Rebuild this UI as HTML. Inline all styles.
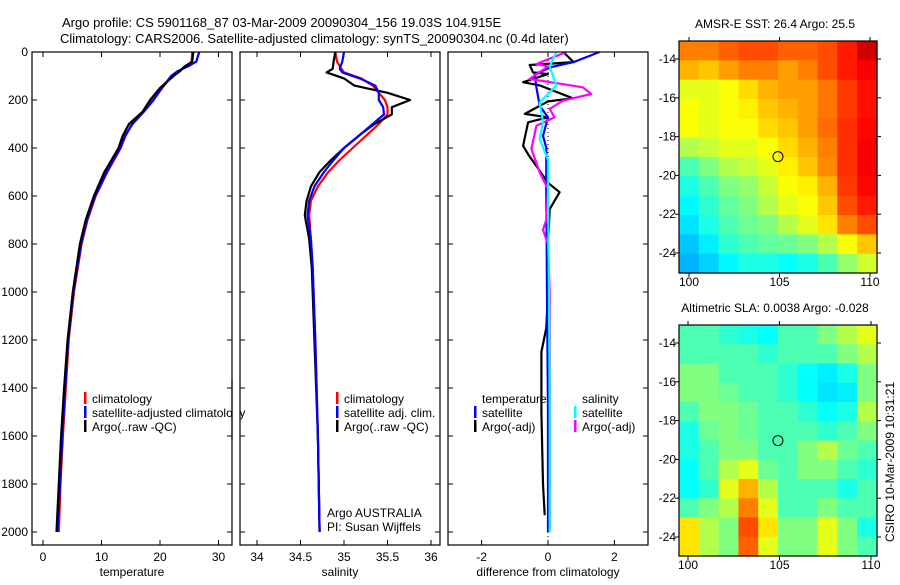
<!DOCTYPE html>
<html><head><meta charset="utf-8">
<style>
html,body{margin:0;padding:0;background:#fff;}
body{width:900px;height:580px;overflow:hidden;font-family:"Liberation Sans",sans-serif;}
svg text{font-family:"Liberation Sans",sans-serif;font-size:12px;fill:#000;}
</style></head>
<body>
<svg id="fig" width="900" height="580" viewBox="0 0 900 580" xmlns="http://www.w3.org/2000/svg">
<text x="62" y="27" style="font-size:13px">Argo profile: CS 5901168_87 03-Mar-2009 20090304_156 19.03S 104.915E</text>
<text x="60" y="43" style="font-size:13px">Climatology: CARS2006. Satellite-adjusted climatology: synTS_20090304.nc (0.4d later)</text>
<g id="content"></g>
<text transform="translate(894,462) rotate(-90)" text-anchor="middle">CSIRO 10-Mar-2009 10:31:21</text>
</svg>
<script>
// ---------- data ----------
const depthTicks=[0,200,400,600,800,1000,1200,1400,1600,1800,2000];
const tempTicks=[0,10,20,30];
const salTicks=[34,34.5,35,35.5,36];
const diffTicks=[-2,0,2];
const lonTicks=[100,105,110];
const latTicks=[-14,-16,-18,-20,-22,-24];

const tDepth=[0,40,60,80,100,150,200,250,300,350,400,500,600,700,800,1000,1200,1400,1600,1800,2000];
const tClim=[25.5,25.4,24.6,23.2,22,20.4,18.8,17,15.2,14.1,13.3,11,9,7.6,6.6,5.3,4.4,3.9,3.4,3.0,2.7];
const tSat=[26.7,26.2,24.8,23.0,21.9,20.3,18.9,17.2,15.3,14.0,13.2,10.9,8.9,7.5,6.5,5.2,4.3,3.8,3.3,2.9,2.5];
const tArgo=[25.7,25.5,24.2,23.4,22.3,20.0,18.3,17.0,14.7,13.6,12.9,10.5,8.7,7.3,6.3,5.1,4.2,3.6,3.1,2.7,2.3];

const sDepth=[0,40,70,85,110,140,170,200,230,260,300,340,400,450,500,560,620,680,780,900,1200,1600,2000];
const sClim=[34.9,34.92,34.97,35.0,35.2,35.33,35.4,35.47,35.5,35.5,35.4,35.28,35.1,34.95,34.82,34.7,34.62,34.6,34.62,34.64,34.67,34.7,34.72];
const sSat=[35.0,34.98,34.95,34.98,35.18,35.36,35.40,35.40,35.45,35.46,35.33,35.2,35.0,34.88,34.77,34.66,34.6,34.58,34.62,34.64,34.67,34.7,34.72];
const sArgo=[34.9,34.88,34.87,34.8,35.0,35.12,35.5,35.76,35.55,35.55,35.35,35.2,35.0,34.85,34.72,34.62,34.57,34.55,34.6,34.63,34.66,34.7,34.72];

const dDepthA=[0,42,54,85,92,126,139,193,206,258,272,293,391,426,545,584,655,800,1000,1150,1250,1500,1800,1930];
const dArgoT=[0.46,0.77,-0.55,-0.45,0,-0.75,-0.25,0.75,0,-0.7,0,-0.6,-0.75,-0.6,0,0.35,0.05,0,0,-0.05,-0.2,-0.2,-0.15,-0.1];
const dDepthB=[0,42,63,92,147,224,272,349,400,600,1000,1500,2000];
const dSatT=[1.55,0.77,0.1,-0.4,-0.35,-0.25,0,-0.15,-0.05,-0.05,-0.03,0,0];
const dDepthC=[0,50,60,112,147,175,203,237,272,307,404,502,571,700,740,800,1000,1500,2000];
const dArgoS=[0.55,-0.35,0,-0.55,1.05,1.3,0.45,0.05,0.2,-0.35,-0.5,-0.25,0,-0.05,-0.15,0,0.05,0.05,0.05];
const dDepthD=[0,60,139,210,293,362,450,600,1000,1500,2000];
const dSatS=[0.25,0.05,0.25,-0.25,-0.15,-0.25,0,0,0.03,0.05,0.05];

const sstGrid=[
[0.75,0.75,0.78,0.8,0.8,0.78,0.78,0.8,0.85,0.92],
[0.7,0.68,0.72,0.75,0.75,0.72,0.75,0.8,0.85,0.88],
[0.6,0.6,0.62,0.66,0.7,0.72,0.72,0.76,0.82,0.86],
[0.62,0.6,0.62,0.64,0.68,0.7,0.72,0.76,0.82,0.86],
[0.62,0.6,0.62,0.62,0.66,0.68,0.72,0.77,0.83,0.87],
[0.55,0.57,0.6,0.6,0.62,0.66,0.7,0.75,0.83,0.88],
[0.45,0.5,0.55,0.57,0.6,0.64,0.68,0.74,0.83,0.88],
[0.4,0.45,0.5,0.52,0.57,0.62,0.64,0.7,0.82,0.87],
[0.37,0.42,0.47,0.5,0.55,0.6,0.62,0.68,0.8,0.85],
[0.35,0.4,0.45,0.48,0.5,0.55,0.6,0.65,0.75,0.8],
[0.32,0.36,0.42,0.45,0.47,0.48,0.5,0.55,0.62,0.68],
[0.3,0.33,0.37,0.4,0.4,0.38,0.4,0.45,0.52,0.58]];
const slaGrid=[
[0.45,0.45,0.42,0.4,0.38,0.45,0.45,0.5,0.55,0.6],
[0.45,0.45,0.45,0.45,0.42,0.45,0.45,0.45,0.5,0.55],
[0.5,0.5,0.45,0.45,0.45,0.42,0.38,0.36,0.4,0.5],
[0.5,0.5,0.48,0.45,0.45,0.42,0.38,0.35,0.36,0.5],
[0.45,0.5,0.5,0.48,0.45,0.45,0.42,0.38,0.4,0.55],
[0.4,0.48,0.5,0.48,0.45,0.45,0.45,0.42,0.45,0.5],
[0.4,0.45,0.5,0.5,0.45,0.45,0.5,0.55,0.48,0.45],
[0.38,0.45,0.55,0.6,0.48,0.45,0.5,0.5,0.45,0.42],
[0.38,0.42,0.6,0.7,0.55,0.45,0.45,0.45,0.4,0.45],
[0.45,0.5,0.55,0.75,0.6,0.45,0.45,0.5,0.45,0.45],
[0.65,0.55,0.5,0.8,0.65,0.5,0.5,0.6,0.5,0.4],
[0.65,0.55,0.5,0.78,0.6,0.5,0.5,0.6,0.5,0.45]];
const floatLon=104.915, floatLat=-19.03;

// ---------- helpers ----------
const NS='http://www.w3.org/2000/svg';
const root=document.getElementById('content');
function mk(tag,attrs,parent){const e=document.createElementNS(NS,tag);for(const k in attrs)e.setAttribute(k,attrs[k]);(parent||root).appendChild(e);return e;}
const axTop=52,axBot=545;
const yD=d=>52+d*0.24;

function panel(name,x0,x1,xs,xTicks,xLabelFmt,label,showY){
  const g=mk('g',{});
  
  
  for(const t of xTicks){
    const x=xs(t);
    mk('line',{x1:x,x2:x,y1:axBot,y2:axBot-5,stroke:'#000'},g);
    mk('line',{x1:x,x2:x,y1:axTop,y2:axTop+5,stroke:'#000'},g);
    const tx=mk('text',{x:x,y:561,'text-anchor':'middle'},g);
    tx.textContent=xLabelFmt(t);
    
    
  }
  for(const d of depthTicks){
    const y=yD(d);
    mk('line',{x1:x0,x2:x0+5,y1:y,y2:y,stroke:'#000'},g);
    mk('line',{x1:x1,x2:x1-5,y1:y,y2:y,stroke:'#000'},g);
    if(showY){const tx=mk('text',{x:28,y:y+4,'text-anchor':'end'},g);tx.textContent=d;
      
      }
  }
  const lb=mk('text',{x:(x0+x1)/2,y:576,'text-anchor':'middle'},g);
  lb.textContent=label;
  
  
  return g;
}
function frame(x0,x1){const r=mk('rect',{x:x0,y:axTop,width:x1-x0,height:axBot-axTop,fill:'none',stroke:'#000','stroke-width':1.2});
  }
function line(depths,vals,xs,color,name){
  const pts=depths.map((d,i)=>xs(vals[i]).toFixed(1)+','+yD(d).toFixed(1)).join(' ');
  const p=mk('polyline',{points:pts,fill:'none',stroke:color,'stroke-width':2.2,'stroke-linejoin':'round'});
  
  
}
function legend(x,y,color,text,name){
  const g=mk('g',{});
  
  
  if(color)mk('rect',{x:x,y:y-11,width:2.5,height:12,fill:color},g);
  const t=mk('text',{x:x+8,y:y},g);t.textContent=text;
}

// ---------- panel 1: temperature ----------
const xT=v=>43+v*5.85;
panel('temperature-axes',32,232,xT,tempTicks,v=>v,'temperature',true);
line(tDepth,tClim,xT,'#f00','climatology-temperature-line');
line(tDepth,tSat,xT,'#00f','satellite-temperature-line');
line(tDepth,tArgo,xT,'#000','argo-temperature-line');
frame(32,232);
legend(84,403,'#f00','climatology','legend-climatology');
legend(84,417,'#00f','satellite-adjusted climatology','legend-satellite-adjusted');
legend(84,431,'#000','Argo(..raw -QC)','legend-argo');
mk('rect',{x:233,y:405,width:6,height:16,fill:'#fff'});
mk('line',{x1:232,x2:232,y1:380,y2:440,stroke:'#000','stroke-width':1.2});

// ---------- panel 2: salinity ----------
const xS=v=>257+(v-34)*87;
panel('salinity-axes',240,440,xS,salTicks,v=>v,'salinity',false);
line(sDepth,sClim,xS,'#f00','climatology-salinity-line');
line(sDepth,sArgo,xS,'#000','argo-salinity-line');
line(sDepth,sSat,xS,'#00f','satellite-salinity-line');
frame(240,440);
legend(336,403,'#f00','climatology','legend-climatology-sal');
legend(336,417,'#00f','satellite adj. clim.','legend-satellite-sal');
legend(336,431,'#000','Argo(..raw -QC)','legend-argo-sal');
legend(319,517,null,'Argo AUSTRALIA','argo-australia-label');
legend(319,531,null,'PI: Susan Wijffels','pi-label');

// ---------- panel 3: difference ----------
const xDf=v=>548+v*33.2;
panel('difference-axes',448,648,xDf,diffTicks,v=>v,'difference from climatology',false);
mk('line',{x1:548,x2:548,y1:axTop,y2:axBot,stroke:'#000','stroke-dasharray':'1,3'});
line(dDepthA,dArgoT,xDf,'#000','argo-temperature-diff-line');
line(dDepthB,dSatT,xDf,'#00f','satellite-temperature-diff-line');
line(dDepthC,dArgoS,xDf,'#f0f','argo-salinity-diff-line');
line(dDepthD,dSatS,xDf,'#0ff','satellite-salinity-diff-line');
frame(448,648);
legend(474,403,null,'temperature','legend-temperature-header');
legend(474,417,'#00f','satellite','legend-temp-satellite');
legend(474,431,'#000','Argo(-adj)','legend-temp-argo');
legend(574,403,null,'salinity','legend-salinity-header');
legend(574,417,'#0ff','satellite','legend-sal-satellite');
legend(574,431,'#f0f','Argo(-adj)','legend-sal-argo');

// ---------- maps ----------
function jet(v){
  v=Math.max(0,Math.min(1,v));
  const r=Math.max(0,Math.min(1,1.5-Math.abs(4*v-3)));
  const g=Math.max(0,Math.min(1,1.5-Math.abs(4*v-2)));
  const b=Math.max(0,Math.min(1,1.5-Math.abs(4*v-1)));
  return 'rgb('+Math.round(r*255)+','+Math.round(g*255)+','+Math.round(b*255)+')';
}
function map(name,grid,x0,x1,y0,y1,lat14,lat24,lon100,lon110,title,labelY){
  const g=mk('g',{});
  
  
  const rows=grid.length,cols=grid[0].length,cw=(x1-x0)/cols,ch=(y1-y0)/rows;
  grid.forEach((row,i)=>row.forEach((v,j)=>{
    const c=mk('rect',{x:(x0+j*cw).toFixed(2),y:(y0+i*ch).toFixed(2),width:(cw+0.6).toFixed(2),height:(ch+0.6).toFixed(2),fill:jet(v)},g);
    
    
  }));
  mk('rect',{x:x0,y:y0,width:x1-x0,height:y1-y0,fill:'none',stroke:'#000','stroke-width':1.2},g);
  const lx=l=>lon100+(l-100)*(lon110-lon100)/10;
  const ly=l=>lat14+(l+14)*(lat24-lat14)/(-10);
  for(const l of lonTicks){const x=lx(l);
    mk('line',{x1:x,x2:x,y1:y1,y2:y1+4,stroke:'#000'},g);
    mk('line',{x1:x,x2:x,y1:y0,y2:y0-4,stroke:'#000'},g);
    const t=mk('text',{x:x,y:labelY,'text-anchor':'middle'},g);t.textContent=l;}
  for(const l of latTicks){const y=ly(l);
    mk('line',{x1:x0,x2:x0-4,y1:y,y2:y,stroke:'#000'},g);
    mk('line',{x1:x1,x2:x1+4,y1:y,y2:y,stroke:'#000'},g);
    const t=mk('text',{x:x0-3,y:y+4,'text-anchor':'end'},g);t.textContent=l;}
  const c=mk('circle',{cx:lx(floatLon),cy:ly(floatLat),r:5,fill:'none',stroke:'#000','stroke-width':1},g);
  
  
  const t=mk('text',{x:(x0+x1)/2-3,y:y0-13,'text-anchor':'middle'},g);t.textContent=title;
}
map('sst-map',sstGrid,679,877,41,273,59,253,689,870,'AMSR-E SST: 26.4 Argo: 25.5',286);
map('sla-map',slaGrid,679,877,325,556,343,537,688,871,'Altimetric SLA: 0.0038 Argo: -0.028',569);
</script>
</body></html>
